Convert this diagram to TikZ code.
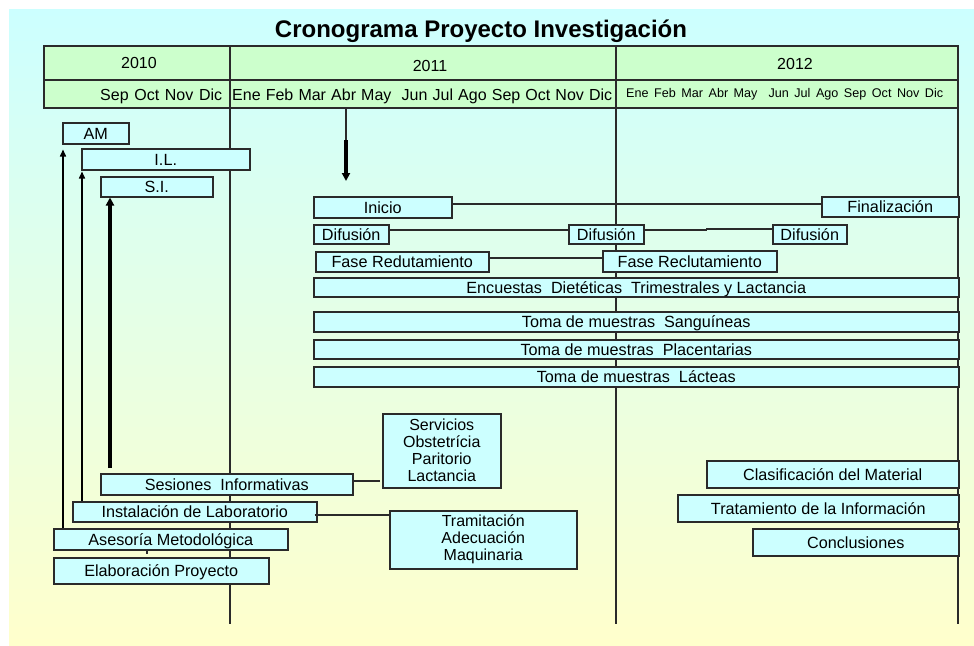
\documentclass[tikz,border=0pt]{standalone}
\usepackage{fontspec}
\setmainfont{Liberation Sans}
\usetikzlibrary{arrows.meta,calc}
\definecolor{bgtop}{HTML}{CCFFFF}
\definecolor{bgbot}{HTML}{FFFFCC}
\definecolor{tabgreen}{HTML}{CCFFCC}
\definecolor{boxfill}{HTML}{CCFFFF}
\definecolor{edge}{HTML}{2A2A2A}
\begin{document}
\begin{tikzpicture}[x=1pt,y=-1pt,
  bar/.style={draw=edge, fill=boxfill, line width=1.5pt, inner sep=0pt, anchor=north west,
    font=\fontsize{16.2}{17}\selectfont, text height=11.6pt, text depth=0pt},
  mbar/.style={draw=edge, fill=boxfill, line width=1.5pt, inner sep=0pt, anchor=north west,
    font=\fontsize{16}{17}\selectfont, align=center},
  hdr/.style={font=\fontsize{16}{19}\selectfont, inner sep=0pt},
  conn/.style={draw=edge, line width=1.5pt},
  arr/.style={draw=black, line width=1.5pt, -{Triangle[length=7pt,width=6pt]}},
  thickarr/.style={draw=black, line width=3.5pt, -{Triangle[length=8pt,width=8pt]}},
]
\useasboundingbox (0,0) rectangle (974,645);
\shade[top color=bgtop, bottom color=bgbot] (9,9) rectangle (974,645);

% title
\node[font=\fontsize{24}{28}\bfseries\selectfont, inner sep=0pt, anchor=base] (title) at (481,37) {Cronograma Proyecto Investigación};

% table
\draw[fill=tabgreen, draw=edge, line width=1.5pt] (44,46) rectangle (958,108);
\draw[conn] (44,80) -- (958,80);
\draw[conn] (230,46) -- (230,624);
\draw[conn] (616,46) -- (616,624);
\draw[conn] (958,108) -- (958,624);

\node[hdr] (y2010) at (139,63) {2010};
\node[hdr] (y2011) at (430,66) {2011};
\node[hdr] (y2012) at (795,64) {2012};
\node[hdr, anchor=base west] (m2010) at (100,100) {\makebox[122pt][s]{Sep Oct Nov Dic}};
\node[hdr, anchor=base west] (m2011) at (232,100) {\makebox[380pt][s]{Ene Feb Mar Abr May \ Jun Jul Ago Sep Oct Nov Dic}};
\node[hdr, font=\fontsize{12.6}{15}\selectfont, anchor=base west] (m2012) at (626,97) {\makebox[317pt][s]{Ene Feb Mar Abr May \ Jun Jul Ago Sep Oct Nov Dic}};

% boxes
\node[bar, minimum width=66pt, minimum height=21pt] (am) at (62,122) {AM};
\node[bar, minimum width=168pt, minimum height=21pt] (il) at (81,148) {I.L.};
\node[bar, minimum width=112pt, minimum height=20pt] (si) at (100,176) {S.I.};
\node[bar, minimum width=138pt, minimum height=21pt] (inicio) at (313,196) {Inicio};
\node[bar, minimum width=137pt, minimum height=20pt] (final) at (821,196) {Finalización};
\node[bar, minimum width=75pt, minimum height=19pt] (dif1) at (313,224) {Difusión};
\node[bar, minimum width=75pt, minimum height=19pt] (dif2) at (568,224) {Difusión};
\node[bar, minimum width=74pt, minimum height=19pt] (dif3) at (772,224) {Difusión};
\node[bar, minimum width=173pt, minimum height=20pt] (fase1) at (315,251) {Fase Redutamiento};
\node[bar, minimum width=174pt, minimum height=21pt] (fase2) at (602,250) {Fase Reclutamiento};
\node[bar, minimum width=645pt, minimum height=19pt] (encuestas) at (313,277) {Encuestas \ Dietéticas \ Trimestrales y Lactancia};
\node[bar, minimum width=645pt, minimum height=20pt] (sang) at (313,311) {Toma de muestras \ Sanguíneas};
\node[bar, minimum width=645pt, minimum height=19pt] (plac) at (313,339) {Toma de muestras \ Placentarias};
\node[bar, minimum width=645pt, minimum height=20pt] (lact) at (313,366) {Toma de muestras \ Lácteas};
\node[mbar, minimum width=118pt, minimum height=74pt] (servicios) at (382,413) {Servicios\\Obstetrícia\\Paritorio\\Lactancia};
\node[bar, minimum width=252pt, minimum height=21pt] (sesiones) at (100,473) {Sesiones \ Informativas};
\node[bar, minimum width=244pt, minimum height=20pt] (instal) at (72,501) {Instalación de Laboratorio};
\node[mbar, minimum width=187pt, minimum height=58pt] (tramit) at (389,510) {Tramitación\\Adecuación\\Maquinaria};
\node[bar, minimum width=234pt, minimum height=21pt] (asesoria) at (53,528) {Asesoría Metodológica};
\node[bar, minimum width=215pt, minimum height=26pt] (elab) at (53,557) {Elaboración Proyecto};
\node[bar, minimum width=252pt, minimum height=27pt] (clasif) at (706,460) {Clasificación del Material};
\node[bar, minimum width=281pt, minimum height=27pt] (tratam) at (677,494) {Tratamiento de la Información};
\node[bar, minimum width=206pt, minimum height=27pt] (conclus) at (752,528) {Conclusiones};

% connectors
\draw[conn] ([yshift=3.5pt]inicio.east) -- ([yshift=3pt]final.west);
\draw[conn] ([yshift=4.5pt]dif1.east) -- ([yshift=4.5pt]dif2.west);
\draw[conn] ([yshift=4.5pt]dif2.east) -- ++(62,0) |- ([yshift=5.5pt]dif3.west);
\draw[conn] ([yshift=4pt]fase1.east) -- ([yshift=3.5pt]fase2.west);
\draw[conn, shorten >=2pt] ([yshift=3.5pt]sesiones.east) -- ([yshift=3.5pt]sesiones.east -| servicios.west);
\draw[conn] ([xshift=-3pt,yshift=-3pt]instal.east) -- ([yshift=-3pt]instal.east -| tramit.west);
\coordinate (tk) at (147,549);
\draw[conn] (tk) -- ++(0,5);

% arrows
\draw[arr] ([xshift=1pt]asesoria.north -| am.west) -- ([xshift=1pt,yshift=-5pt]am.south west);
\draw[arr] ([xshift=1pt]instal.north -| il.west) -- ([xshift=1pt,yshift=-1pt]il.south west);
\coordinate (siA) at (110,468);
\draw[thickarr] (siA) -- (siA |- si.south);
\coordinate (abr) at (346,108);
\coordinate (abrmid) at (346,140);
\coordinate (abrtip) at (346,181);
\draw[conn] (abr) -- (abrmid);
\draw[thickarr] (abrmid) -- (abrtip);
\end{tikzpicture}
\end{document}
